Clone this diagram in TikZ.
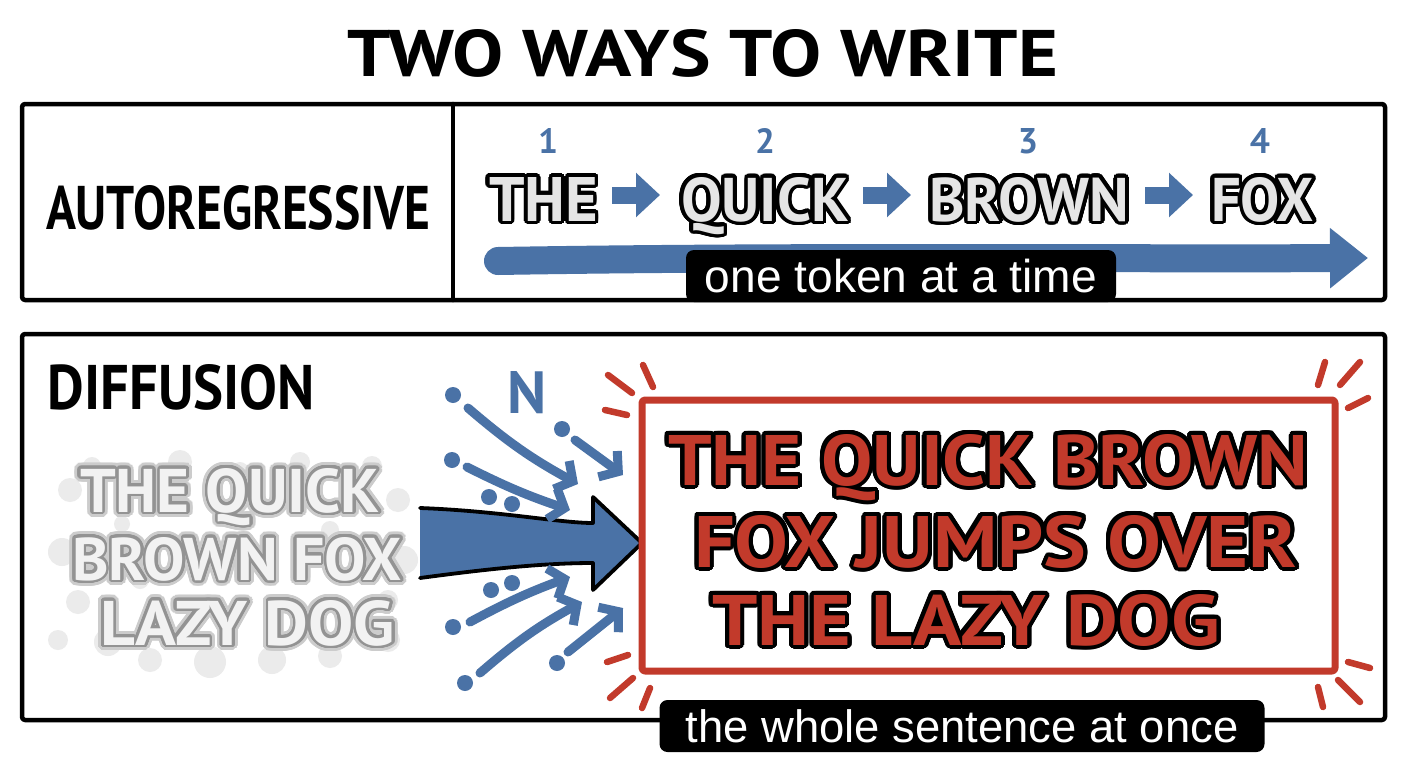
\documentclass[tikz,border=0pt]{standalone}
\usepackage{fontspec}
\setmainfont{PT Sans}
\newfontfamily\labfont{Liberation Sans}
\usepackage[copies]{contour}
\contournumber{32}
\usetikzlibrary{arrows.meta,calc}
\definecolor{inkblue}{RGB}{74,114,166}
\definecolor{inkred}{RGB}{194,58,43}
\newcommand{\fitw}[3]{\resizebox{#1pt}{#2pt}{\bfseries #3}}
\newcommand{\fith}[2]{\resizebox{!}{#1pt}{\bfseries #2}}
\newcommand{\fitlab}[2]{\resizebox{#1pt}{!}{\labfont #2}}
\begin{document}
\begin{tikzpicture}[x=1pt,y=-1pt,line cap=round,line join=round,
  txt/.style={inner sep=0pt,outer sep=0pt,anchor=base west},
  frame/.style={draw=black,line width=4.5pt,rounded corners=3pt},
  labelbox/.style={fill=black,rounded corners=8pt,inner sep=0pt,text=white},
  burst/.style={draw=inkred,line width=6.5pt},
  fan/.style={draw=inkblue,line width=9pt,-{Straight Barb[length=13pt 0,width=32pt 0]}},
  dot/.style={circle,fill=inkblue,inner sep=0pt,minimum size=16pt},
  blob/.style={fill=gray!45,opacity=.35},
  block/.style={draw=inkblue,line width=17pt,line cap=butt,-{Triangle[length=24pt 0,width=43pt 0]}}]
\useasboundingbox (0,0) rectangle (1408,768);
\fill[white] (0,0) rectangle (1408,768);

% title
\node[txt] (title) at (347,77) {\fitw{711}{47}{TWO WAYS TO WRITE}};

% frames
\draw[frame] (22,104) rectangle (1385,300);
\draw[frame] (453,104) -- (453,300);
\draw[frame] (22,334) rectangle (1385,720);

% autoregressive row
\node[txt] (ar) at (46,229) {\fitw{384}{44}{AUTOREGRESSIVE}};
\node[txt] (w1) at (489,221) {\color{gray!20}\contourlength{3.6pt}\contour{black}{\fitw{109}{44}{THE}}};
\node[txt] (w2) at (681,221) {\color{gray!20}\contourlength{3.6pt}\contour{black}{\fitw{168}{44}{QUICK}}};
\node[txt] (w3) at (929,221) {\color{gray!20}\contourlength{3.6pt}\contour{black}{\fitw{200}{44}{BROWN}}};
\node[txt] (w4) at (1211,221) {\color{gray!20}\contourlength{3.6pt}\contour{black}{\fitw{103}{44}{FOX}}};
\node[text=inkblue] (n1) at (548,141) {\fith{25}{1}};
\node[text=inkblue] (n2) at (765,141) {\fith{25}{2}};
\node[text=inkblue] (n3) at (1028,141) {\fith{25}{3}};
\node[text=inkblue] (n4) at (1260,141) {\fith{25}{4}};
\draw[block] ($(w1.base east)+(14,-26)$) -- ($(w2.base west)+(-21,-26)$);
\draw[block] ($(w2.base east)+(14,-26)$) -- ($(w3.base west)+(-18,-26)$);
\draw[block] ($(w3.base east)+(16,-26)$) -- ($(w4.base west)+(-18,-26)$);
\coordinate (ls) at (498,261);
\coordinate (le) at (1368,258);
\draw[inkblue,line width=28pt,-{Triangle[length=38pt 0,width=58pt 0]}] (ls) .. controls (800,256) and (1100,259) .. (le);
\node[labelbox,minimum width=430pt,minimum height=52pt] (tok) at (901,276) {\fitlab{392}{one token at a time}};

% diffusion
\node[txt] (diff) at (48,409) {\fitw{267}{45}{DIFFUSION}};
\foreach \x/\y/\r in {70/490/12,92/466/9,62/552/14,78/602/12,108/642/14,150/660/12,210/662/16,272/660/14,330/656/12,388/640/12,404/560/14,398/500/12,372/466/10,300/462/10,180/462/12,58/640/10,122/524/8,388/600/10,240/470/8,140/580/9,330/530/9}
  \fill[blob] (\x,\y) circle (\r);
\node[txt] (b1h) at (80,512) {\color{gray!45}\contourlength{5.5pt}\contour{gray!40}{\fitw{300}{44}{THE QUICK}}};
\node[txt] (b2h) at (72,580) {\color{gray!45}\contourlength{5.5pt}\contour{gray!40}{\fitw{330}{43}{BROWN FOX}}};
\node[txt] (b3h) at (100,645) {\color{gray!45}\contourlength{5.5pt}\contour{gray!40}{\fitw{295}{45}{LAZY DOG}}};
\node[txt] (b1) at (80,512) {\color{gray!10}\contourlength{2.6pt}\contour{gray!85}{\fitw{300}{44}{THE QUICK}}};
\node[txt] (b2) at (72,580) {\color{gray!10}\contourlength{2.6pt}\contour{gray!85}{\fitw{330}{43}{BROWN FOX}}};
\node[txt] (b3) at (100,645) {\color{gray!10}\contourlength{2.6pt}\contour{gray!85}{\fitw{295}{45}{LAZY DOG}}};

% big arrow
\fill[inkblue] (420,508) .. controls (500,511) and (560,523) .. (593,523) -- (593,497) -- (642,543) -- (593,590) -- (593,563) .. controls (540,563) and (480,570) .. (420,578) -- cycle;
\draw[black,line width=3.8pt] (420,508) .. controls (500,511) and (560,523) .. (593,523) -- (593,497) -- (642,543) -- (593,590) -- (593,563) .. controls (540,563) and (480,570) .. (420,578);

% fan arrows and dots
\node[text=inkblue] (nn) at (527,393) {\fith{42}{N}};
\foreach \x/\y in {453/395,452/460,489/497,512/504,562/429,491/590,512/583,453/627,465/683,557/663}
  \node[dot] at (\x,\y) {};
\coordinate (f1a) at (468,408); \coordinate (f1b) at (578,484);
\coordinate (f2a) at (467,467); \coordinate (f2b) at (570,510);
\coordinate (f3a) at (575,440); \coordinate (f3b) at (623,475);
\coordinate (f4a) at (470,622); \coordinate (f4b) at (570,577);
\coordinate (f5a) at (480,673); \coordinate (f5b) at (582,602);
\coordinate (f6a) at (568,652); \coordinate (f6b) at (623,608);
\draw[fan] (f1a) to[bend right=6] (f1b);
\draw[fan] (f2a) to[bend right=4] (f2b);
\draw[fan] (f3a) -- (f3b);
\draw[fan] (f4a) to[bend left=4] (f4b);
\draw[fan] (f5a) to[bend left=6] (f5b);
\draw[fan] (f6a) -- (f6b);

% result box
\draw[inkred,line width=7pt,rounded corners=3pt] (642,400) rectangle (1335,671);
\foreach \a/\b/\c/\d in {608/375/632/393,643/365/653/387,605/410/627/415,1325/362/1318/385,1360/362/1340/385,1368/398/1348/408,607/662/628/655,610/698/633/678,642/708/650/688,1348/662/1370/668,1338/680/1360/702,1318/687/1323/707}
  \draw[burst] (\a,\b) -- (\c,\d);
\node[txt] (r1) at (668,485) {\color{inkred}\contourlength{4pt}\contour{black}{\fitw{640}{51}{THE QUICK BROWN}}};
\node[txt] (r2) at (694,567) {\color{inkred}\contourlength{4pt}\contour{black}{\fitw{603}{52}{FOX JUMPS OVER}}};
\node[txt] (r3) at (712,645) {\color{inkred}\contourlength{4pt}\contour{black}{\fitw{508}{51}{THE LAZY DOG}}};
\node[labelbox,minimum width=605pt,minimum height=52pt] (once) at (962,726) {\fitlab{553}{the whole sentence at once}};
\end{tikzpicture}
\end{document}
